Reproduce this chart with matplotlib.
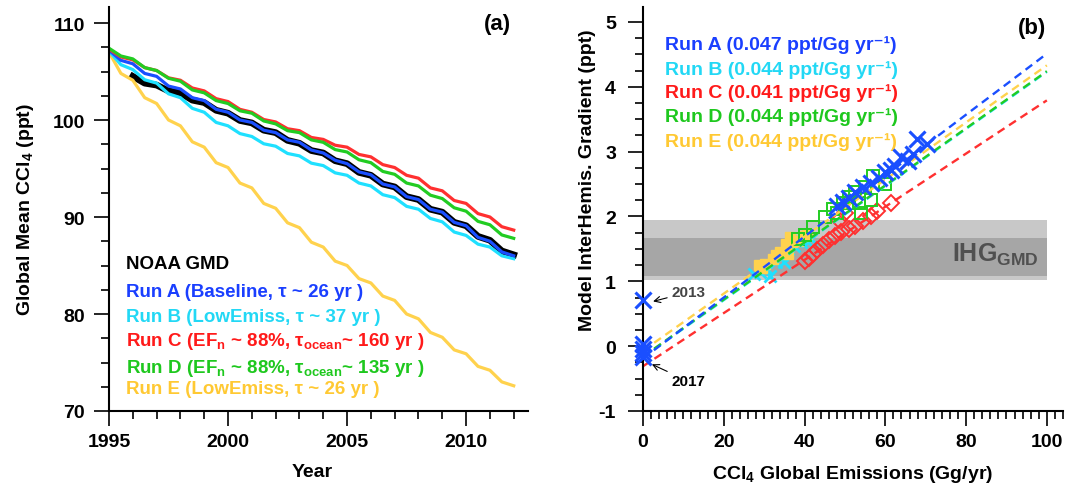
import numpy as np
import matplotlib.pyplot as plt
from matplotlib.ticker import MultipleLocator

plt.rcParams['font.family'] = ['Liberation Sans', 'DejaVu Sans']
plt.rcParams['font.weight'] = 'bold'
plt.rcParams['mathtext.fontset'] = 'custom'
plt.rcParams['mathtext.rm'] = 'Liberation Sans:bold'
plt.rcParams['mathtext.bf'] = 'Liberation Sans:bold'
plt.rcParams['mathtext.it'] = 'Liberation Sans:bold'
plt.rcParams['axes.unicode_minus'] = False

# ---- panel (a): global mean CCl4, half-year readings ----
years = np.arange(1995, 2012.01, 0.5)
noaa_years = np.arange(1996, 2012.01, 0.5)

noaa_gmd = [104.5, 103.8, 103.6, 103.0, 102.8, 102.05, 101.8, 101.0, 100.7, 99.95, 99.7,
            98.95, 98.7, 97.9, 97.6, 96.85, 96.6, 95.8, 95.5, 94.6, 94.3, 93.4, 93.1,
            92.1, 91.8, 90.8, 90.5, 89.45, 89.1, 88.0, 87.6, 86.5, 86.1]
run_a = [107.2, 106.15, 105.8, 104.8, 104.5, 103.5, 103.2, 102.3, 102.0, 101.1, 100.8,
         100.0, 99.75, 98.95, 98.7, 97.95, 97.7, 96.9, 96.6, 95.85, 95.5, 94.65, 94.35,
         93.4, 93.1, 92.1, 91.8, 90.8, 90.5, 89.45, 89.1, 87.9, 87.5, 86.4, 86.0]
run_b = [107.1, 105.7, 105.2, 104.15, 103.8, 102.7, 102.3, 101.2, 100.8, 99.75, 99.4,
         98.6, 98.3, 97.55, 97.3, 96.55, 96.3, 95.55, 95.3, 94.55, 94.3, 93.5, 93.2,
         92.3, 92.0, 91.1, 90.8, 89.85, 89.5, 88.45, 88.1, 87.2, 86.9, 86.0, 85.7]
run_c = [107.3, 106.5, 106.2, 105.4, 105.1, 104.35, 104.1, 103.3, 103.0, 102.2, 101.9,
         101.1, 100.8, 100.05, 99.8, 99.1, 98.9, 98.2, 98.0, 97.4, 97.2, 96.45, 96.2,
         95.4, 95.1, 94.3, 94.0, 93.0, 92.7, 91.7, 91.4, 90.35, 90.0, 89.0, 88.65]
run_d = [107.4, 106.6, 106.3, 105.4, 105.1, 104.3, 104.0, 103.1, 102.8, 102.0, 101.7,
         100.95, 100.7, 99.9, 99.6, 98.9, 98.7, 97.95, 97.7, 96.95, 96.7, 95.9, 95.6,
         94.7, 94.4, 93.5, 93.2, 92.25, 91.9, 90.95, 90.6, 89.55, 89.2, 88.15, 87.8]
run_e = [107.0, 104.8, 104.1, 102.3, 101.7, 100.0, 99.4, 97.75, 97.2, 95.6, 95.1,
         93.5, 93.0, 91.4, 90.9, 89.4, 88.9, 87.4, 86.9, 85.45, 85.0, 83.65, 83.2,
         81.85, 81.4, 80.0, 79.5, 78.1, 77.6, 76.3, 75.9, 74.6, 74.2, 73.0, 72.6]

labels_a = ['NOAA GMD',
            'Run A (Baseline, τ ~ 26 yr )',
            'Run B (LowEmiss, τ ~ 37 yr )',
            r'Run C (EF$_\mathregular{n}$ ~ 88%, τ$_\mathregular{ocean}$~ 160 yr )',
            r'Run D (EF$_\mathregular{n}$ ~ 88%, τ$_\mathregular{ocean}$~ 135 yr )',
            'Run E (LowEmiss, τ ~ 26 yr )']

# ---- panel (b): interhemispheric gradient vs emissions ----
a_emis = [0, 0, 0, 0, 0, 70.3, 67.8, 66.8, 65.5, 64.0, 62.5, 61.5, 60.0, 58.5, 56.5,
          54.5, 52.5, 51.0, 49.5, 48.0]
a_ihg = [0.71, 0.03, -0.04, -0.11, -0.17, 3.12, 3.2, 2.97, 2.86, 2.92, 2.78, 2.72, 2.68,
         2.6, 2.52, 2.45, 2.38, 2.28, 2.22, 2.16]
b_emis = [27.5, 29.0, 31.4, 30.5, 33.0, 34.5, 36.0, 37.5, 39.0, 40.5, 35.0, 41.5]
b_ihg = [1.12, 1.14, 1.08, 1.2, 1.3, 1.4, 1.5, 1.55, 1.6, 1.62, 1.3, 1.65]
c_emis = [61.5, 58.0, 56.5, 54.5, 52.5, 51.0, 49.0, 47.5, 46.0, 44.5, 43.0, 42.0, 41.0,
          40.0, 50.0, 48.5]
c_ihg = [2.2, 2.08, 2.0, 1.93, 1.86, 1.8, 1.76, 1.7, 1.64, 1.56, 1.48, 1.42, 1.36, 1.31,
         2.05, 1.95]
d_emis = [57.0, 60.0, 55.0, 52.5, 51.0, 56.5, 53.5, 49.5, 48.0, 45.0, 42.0, 40.0, 38.5,
          47.0, 54.0]
d_ihg = [2.62, 2.5, 2.45, 2.38, 2.3, 2.25, 2.2, 2.2, 2.05, 1.99, 1.83, 1.72, 1.65, 2.12,
         2.05]
e_emis = [28.8, 30.2, 32.2, 34.0, 35.5, 36.4, 37.0, 38.4, 39.5, 40.5, 36.0, 29.5, 33.0]
e_ihg = [1.25, 1.27, 1.34, 1.45, 1.57, 1.68, 1.6, 1.62, 1.7, 1.73, 1.42, 1.2, 1.4]

fit_slopes = [0.047, 0.044, 0.041, 0.044, 0.044]
fit_intercepts = [-0.19, -0.17, -0.31, -0.16, -0.07]
labels_b = ['Run A (0.047 ppt/Gg yr⁻¹)',
            'Run B (0.044 ppt/Gg yr⁻¹)',
            'Run C (0.041 ppt/Gg yr⁻¹)',
            'Run D (0.044 ppt/Gg yr⁻¹)',
            'Run E (0.044 ppt/Gg yr⁻¹)']
ihg_outer = [1.02, 1.94]
ihg_inner = [1.08, 1.67]

line_cols = ['#1a4fff', '#1fe0ff', '#ff3030', '#22cc22', '#ffd24d']
text_cols = ['#1a3fff', '#22d8f5', '#ff1a1a', '#1ec81e', '#ffc933']

fig = plt.figure(figsize=(10.79, 4.89), dpi=100)
ax1 = fig.add_axes([109/1079, 77/489, 419/1079, 404/489])
ax2 = fig.add_axes([643/1079, 77/489, 420/1079, 404/489])

for ax in (ax1, ax2):
    ax.spines['top'].set_visible(False)
    ax.spines['right'].set_visible(False)
    ax.spines['left'].set_linewidth(1.5)
    ax.spines['bottom'].set_linewidth(1.5)
    ax.tick_params(which='major', direction='out', length=10.5, width=1.2, labelsize=14)
    ax.tick_params(which='minor', direction='out', length=5.5, width=1.2)
    ax.tick_params(axis='x', pad=5)
    for lab in ax.get_xticklabels() + ax.get_yticklabels():
        lab.set_fontweight('bold')

# panel a
ax1.plot(noaa_years, noaa_gmd, color='black', lw=4.8, solid_joinstyle='round')
ax1.plot(years, run_e, color=line_cols[4], lw=2.3)
ax1.plot(years, run_b, color=line_cols[1], lw=2.3)
ax1.plot(years, run_a, color=line_cols[0], lw=2.3)
ax1.plot(years, run_c, color=line_cols[2], lw=2.3)
ax1.plot(years, run_d, color=line_cols[3], lw=2.3)
ax1.set_xlim(1995, 2012.6)
ax1.set_ylim(70, 111.65)
ax1.xaxis.set_major_locator(MultipleLocator(5))
ax1.xaxis.set_minor_locator(MultipleLocator(1))
ax1.yaxis.set_major_locator(MultipleLocator(10))
ax1.yaxis.set_minor_locator(MultipleLocator(2.5))
ax1.tick_params(axis='y', pad=7)
ax1.set_xlabel('Year', fontsize=14, fontweight='bold')
ax1.set_ylabel(r'Global Mean CCl$_\mathregular{4}$ (ppt)', fontsize=14, fontweight='bold')
ax1.xaxis.set_label_coords(0.485, -0.128)
ax1.yaxis.set_label_coords(-0.174, 0.5)
ax1.text(2011.3, 109.9, '(a)', fontsize=16, fontweight='bold', ha='center', va='center')

leg_y = [0.364, 0.2946, 0.2327, 0.1733, 0.1089, 0.0545]
leg_c = ['black'] + text_cols
for lab, yy, cc in zip(labels_a, leg_y, leg_c):
    ax1.text(0.04, yy, lab, color=cc, fontsize=13.5, fontweight='bold',
             transform=ax1.transAxes, va='center', ha='left')

# panel b
ax2.fill_between([0, 100], ihg_outer[0], ihg_outer[1], color='#c8c8c8', lw=0, zorder=0)
ax2.fill_between([0, 100], ihg_inner[0], ihg_inner[1], color='#a6a6a6', lw=0, zorder=0)
ax2.text(76.5, 1.42, r'IHG$_\mathregular{GMD}$', fontsize=18, fontweight='bold',
         color='#505050', va='center', ha='left')

ax2.plot(b_emis, b_ihg, ls='none', marker='x', ms=8, mew=2, color=line_cols[1])
ax2.plot(e_emis, e_ihg, ls='none', marker='s', ms=7, color=line_cols[4], mec=line_cols[4])
ax2.plot(c_emis, c_ihg, ls='none', marker='D', ms=8.5, mfc='none', mew=1.4, color=line_cols[2])
ax2.plot(d_emis, d_ihg, ls='none', marker='s', ms=9, mfc='none', mew=1.4, color=line_cols[3])

xfit = np.array([0, 100])
for i in [2, 1, 3, 4, 0]:
    ax2.plot(xfit, fit_slopes[i] * xfit + fit_intercepts[i], color=line_cols[i], lw=1.7,
             ls=(0, (3.5, 2.3)))

ax2.plot(a_emis, a_ihg, ls='none', marker='x', ms=11, mew=2.2, color=line_cols[0],
         clip_on=False, zorder=5)

ax2.annotate('2013', xy=(2.5, 0.69), xytext=(7, 0.83), fontsize=11, fontweight='bold',
             color='#444444', va='center',
             arrowprops=dict(arrowstyle='->', color='black', lw=0.8, shrinkA=1, shrinkB=0))
ax2.annotate('2017', xy=(2.2, -0.28), xytext=(7, -0.54), fontsize=11, fontweight='bold',
             color='black', va='center',
             arrowprops=dict(arrowstyle='->', color='black', lw=0.8, shrinkA=1, shrinkB=0))

ax2.set_xlim(0, 104)
ax2.set_ylim(-1, 5.23)
ax2.xaxis.set_major_locator(MultipleLocator(20))
ax2.xaxis.set_minor_locator(MultipleLocator(2))
ax2.yaxis.set_major_locator(MultipleLocator(1))
ax2.yaxis.set_minor_locator(MultipleLocator(0.25))
ax2.tick_params(axis='y', pad=9)
ax2.set_xlabel(r'CCl$_\mathregular{4}$ Global Emissions (Gg/yr)', fontsize=14, fontweight='bold')
ax2.set_ylabel('Model InterHemis. Gradient (ppt)', fontsize=14, fontweight='bold')
ax2.xaxis.set_label_coords(0.5, -0.128)
ax2.yaxis.set_label_coords(-0.112, 0.574)
ax2.text(0.927, 0.95, '(b)', fontsize=16, fontweight='bold', ha='center', va='center',
         transform=ax2.transAxes)

leg_yb = [0.908, 0.847, 0.79, 0.73, 0.668]
for lab, yy, cc in zip(labels_b, leg_yb, text_cols):
    ax2.text(0.052, yy, lab, color=cc, fontsize=14, fontweight='bold',
             transform=ax2.transAxes, va='center', ha='left')

fig.savefig('out.png', dpi=100)
